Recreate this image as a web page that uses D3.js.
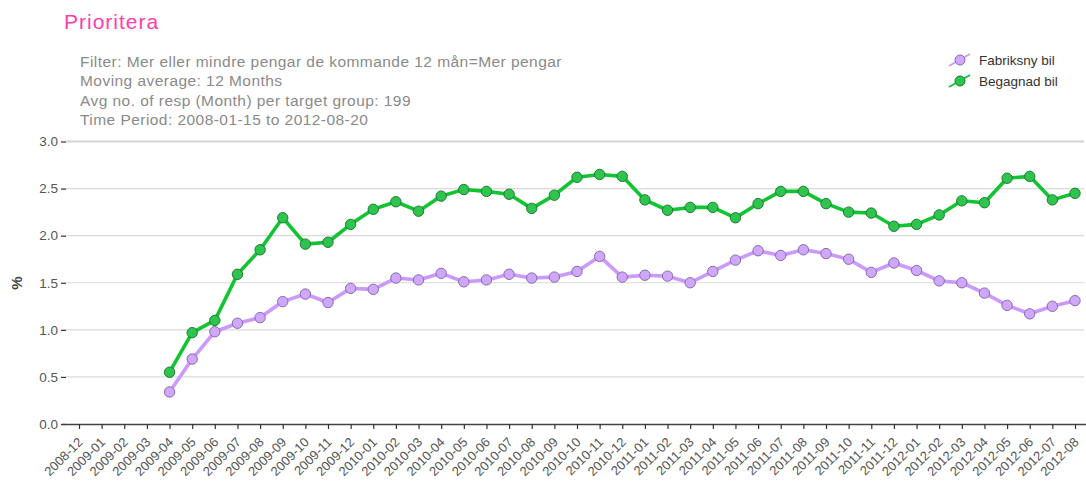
<!DOCTYPE html>
<html>
<head>
<meta charset="utf-8">
<script src="https://cdn.jsdelivr.net/npm/d3@7/dist/d3.min.js"></script>
<style>
  html, body { margin: 0; padding: 0; background: #fff; }
  svg { display: block; font-family: "Liberation Sans", Arial, sans-serif; }
</style>
</head>
<body>
<svg id="chart" width="1086" height="483"></svg>
<script>
// Months on the x axis
const months = [
  "2008-12","2009-01","2009-02","2009-03","2009-04","2009-05","2009-06","2009-07",
  "2009-08","2009-09","2009-10","2009-11","2009-12","2010-01","2010-02","2010-03",
  "2010-04","2010-05","2010-06","2010-07","2010-08","2010-09","2010-10","2010-11",
  "2010-12","2011-01","2011-02","2011-03","2011-04","2011-05","2011-06","2011-07",
  "2011-08","2011-09","2011-10","2011-11","2011-12","2012-01","2012-02","2012-03",
  "2012-04","2012-05","2012-06","2012-07","2012-08"
];

// Series start at 2009-04 (no data before that)
const firstMonth = "2009-04";

const fabriksny = [
  0.34, 0.69, 0.98, 1.07, 1.13, 1.30, 1.38, 1.29, 1.44, 1.43, 1.55, 1.53,
  1.60, 1.51, 1.53, 1.59, 1.55, 1.56, 1.62, 1.78, 1.56, 1.58, 1.57, 1.50,
  1.62, 1.74, 1.84, 1.79, 1.85, 1.81, 1.75, 1.61, 1.71, 1.63, 1.52, 1.50,
  1.39, 1.26, 1.17, 1.25, 1.31
];

const begagnad = [
  0.55, 0.97, 1.10, 1.59, 1.85, 2.19, 1.91, 1.93, 2.12, 2.28, 2.36, 2.26,
  2.42, 2.49, 2.47, 2.44, 2.29, 2.43, 2.62, 2.65, 2.63, 2.38, 2.27, 2.30,
  2.30, 2.19, 2.34, 2.47, 2.47, 2.34, 2.25, 2.24, 2.10, 2.12, 2.22, 2.37,
  2.35, 2.61, 2.63, 2.38, 2.45
];

const yTicks = [0, 0.5, 1.0, 1.5, 2.0, 2.5, 3.0];

const seriesNames = ["Fabriksny bil", "Begagnad bil"];
const seriesColors = [
  { line: "#cc99ff", fill: "#cfa8fb", stroke: "#8a6aaa" },
  { line: "#11c431", fill: "#2ec54e", stroke: "#1f7a33" }
];

const title = "Prioritera";
const subtitle = [
  "Filter: Mer eller mindre pengar de kommande 12 mån=Mer pengar",
  "Moving average: 12 Months",
  "Avg no. of resp (Month) per target group: 199",
  "Time Period: 2008-01-15 to 2012-08-20"
];

const svg = d3.select("#chart");
const plot = { left: 66, right: 1084, top: 141.5, bottom: 424 };

const x = d3.scalePoint()
  .domain(months)
  .range([79, 1075]);

const y = d3.scaleLinear()
  .domain([0, 3])
  .range([plot.bottom, plot.top]);

// Title and description block
svg.append("text")
  .attr("x", 64).attr("y", 29)
  .attr("fill", "#ff3caa")
  .attr("font-size", 21)
  .attr("letter-spacing", 1.0)
  .text(title);

svg.append("g")
  .selectAll("text")
  .data(subtitle)
  .join("text")
  .attr("x", 80)
  .attr("y", (d, i) => 67 + i * 19.3)
  .attr("fill", "#8a8a8a")
  .attr("font-size", 15.5)
  .attr("letter-spacing", 0.45)
  .text(d => d);

// Horizontal grid lines
svg.append("g")
  .selectAll("line")
  .data(yTicks.filter(d => d > 0))
  .join("line")
  .attr("x1", plot.left).attr("x2", plot.right)
  .attr("y1", d => y(d)).attr("y2", d => y(d))
  .attr("stroke", d => d === 3 ? "#d4d4d4" : "#dadada")
  .attr("stroke-width", d => d === 3 ? 2 : 1.2);

// Y axis
const yAxis = svg.append("g")
  .attr("transform", `translate(${plot.left},0)`)
  .call(d3.axisLeft(y).tickValues(yTicks).tickFormat(d3.format(".1f")).tickSize(5).tickPadding(3));
yAxis.select(".domain").remove();
yAxis.selectAll(".tick line").attr("stroke", "#333").attr("stroke-width", 1.2);
yAxis.selectAll(".tick text")
  .attr("fill", "#555")
  .attr("font-size", 13.5)
  .attr("font-family", "Liberation Sans, Arial, sans-serif");

// Y axis title
svg.append("text")
  .attr("transform", "translate(22,283) rotate(-90)")
  .attr("text-anchor", "middle")
  .attr("fill", "#444")
  .attr("font-size", 15)
  .attr("font-weight", "bold")
  .text("%");

// X axis
const xAxis = svg.append("g")
  .attr("transform", `translate(0,${plot.bottom})`)
  .call(d3.axisBottom(x).tickSize(5).tickPadding(4));
xAxis.select(".domain")
  .attr("d", `M${plot.left - 4},0.5H${plot.right + 2}`)
  .attr("stroke", "#444")
  .attr("stroke-width", 1.6);
xAxis.selectAll(".tick line").attr("stroke", "#333").attr("stroke-width", 1.2);
xAxis.selectAll(".tick text")
  .attr("fill", "#555")
  .attr("font-size", 13)
  .attr("font-family", "Liberation Sans, Arial, sans-serif")
  .attr("text-anchor", "end")
  .attr("y", 0)
  .attr("dy", 0)
  .attr("transform", "translate(4,19) rotate(-45)");

// Series lines and markers
const startIdx = months.indexOf(firstMonth);
const seriesData = [fabriksny, begagnad].map(vals =>
  vals.map((v, i) => ({ month: months[startIdx + i], value: v }))
);

const line = d3.line()
  .x(d => x(d.month))
  .y(d => y(d.value));

seriesData.forEach((data, s) => {
  const c = seriesColors[s];
  const g = svg.append("g");
  g.append("path")
    .datum(data)
    .attr("d", line)
    .attr("fill", "none")
    .attr("stroke", c.line)
    .attr("stroke-width", 3.6)
    .attr("stroke-linejoin", "round");
  g.selectAll("circle")
    .data(data)
    .join("circle")
    .attr("cx", d => x(d.month))
    .attr("cy", d => y(d.value))
    .attr("r", 5.2)
    .attr("fill", c.fill)
    .attr("stroke", c.stroke)
    .attr("stroke-width", 1);
});

// Legend
const legend = svg.append("g").attr("transform", "translate(948,60)");
seriesNames.forEach((name, i) => {
  const c = seriesColors[i];
  const g = legend.append("g").attr("transform", `translate(0,${i * 21})`);
  g.append("line")
    .attr("x1", 1).attr("y1", 6).attr("x2", 22).attr("y2", -6)
    .attr("stroke", c.line).attr("stroke-width", 1.8);
  g.append("circle")
    .attr("cx", 12).attr("cy", 0).attr("r", 5)
    .attr("fill", c.fill).attr("stroke", c.stroke).attr("stroke-width", 1);
  g.append("text")
    .attr("x", 31).attr("y", 0).attr("dy", "0.35em")
    .attr("fill", "#333")
    .attr("font-size", 13.5)
    .text(name);
});
</script>
</body>
</html>
